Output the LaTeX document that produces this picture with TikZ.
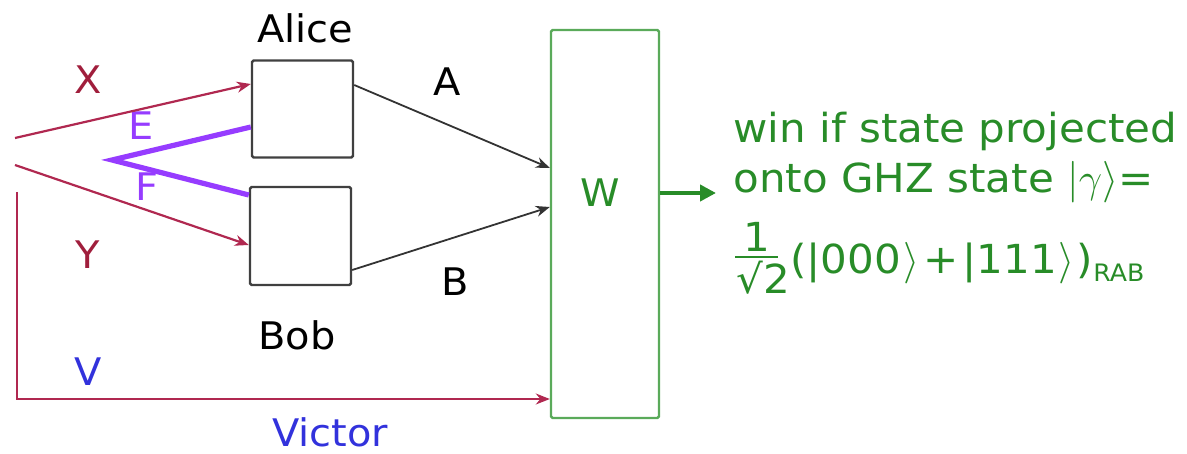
\documentclass[tikz,border=0pt]{standalone}
\usepackage{fontspec}
\setmainfont[FakeStretch=1.05]{DejaVu Sans}
\usetikzlibrary{arrows.meta}
\definecolor{cred}{RGB}{176,40,80}
\definecolor{lred}{RGB}{160,30,60}
\definecolor{cpur}{RGB}{150,60,255}
\definecolor{cblue}{RGB}{50,50,220}
\definecolor{cgreen}{RGB}{40,140,40}
\definecolor{bgreen}{RGB}{90,170,90}
\tikzset{
  box/.style={draw=black!75, line width=1.2pt, rounded corners=0.8pt, inner sep=0pt},
  lbl/.style={font=\fontsize{19}{22}\selectfont, inner sep=0pt},
  redln/.style={draw=cred, line width=1.1pt, -{Stealth[length=7pt,width=5.5pt]}},
  blkln/.style={draw=black!80, line width=0.9pt, -{Stealth[length=7pt,width=5.5pt]}},
  gtext/.style={font=\fontsize{20}{24}\selectfont, text=cgreen, inner sep=0pt, anchor=base west}
}
\begin{document}
\begin{tikzpicture}[x=0.5pt,y=-0.5pt]
\useasboundingbox (0,0) rectangle (1187,454);
% boxes
\node[box, minimum width=50.5pt, minimum height=48.5pt] (alice) at (302.5,109) {};
\node[box, minimum width=50.5pt, minimum height=49pt] (bob) at (300.5,236) {};
\node[box, draw=bgreen, minimum width=54pt, minimum height=194pt] (W) at (605,224) {};
\node[lbl, text=cgreen] (wl) at (600,193) {W};
% labels
\node[lbl] (alicel) at (305,28) {Alice};
\node[lbl] (bobl) at (297,335) {Bob};
\node[lbl, text=lred] (xl) at (88,80) {X};
\node[lbl, text=lred] (yl) at (88,255) {Y};
\node[lbl, text=cblue] (vl) at (88,372) {V};
\node[lbl, text=cblue] (victor) at (330,432) {Victor};
\node[lbl, text=cpur] (el) at (141,126) {E};
\node[lbl, text=cpur] (fl) at (147,187) {F};
\node[lbl] (al) at (447,82) {A};
\node[lbl] (bl) at (455,282) {B};
% coordinates
\coordinate (xs) at (15,138);
\coordinate (ys) at (15,165);
\coordinate (ef) at (112,160);
\coordinate (vs) at (17,192);
\coordinate (go) at (716,193);
% connectors
\draw[redln] (xs) -- ([yshift=12.5pt]alice.west);
\draw[redln] (ys) -- ([yshift=-4.5pt]bob.west);
\draw[cpur, line width=2.6pt, line join=miter] ([yshift=-9pt]alice.west) -- (ef) -- ([yshift=20.5pt]bob.west);
\draw[blkln] ([yshift=12pt]alice.east) -- ([yshift=28pt]W.west);
\draw[blkln] ([yshift=-17pt]bob.east) -- ([yshift=8.5pt]W.west);
\draw[redln] (vs) |- ([yshift=-87.5pt]W.west);
\draw[draw=cgreen, line width=2.2pt, -{Triangle[length=8pt,width=8pt]}] ([yshift=15.5pt]W.east) -- (go);
% green text
\node[gtext] (t1) at (733,143) {win if state projected};
\node[gtext] (t2) at (733,193) {onto GHZ state $|\gamma\rangle$=};
\node[gtext, anchor=base] (num) at (757,251) {1};
\node[gtext] (den) at (736,293) {√2};
\coordinate (bl1) at (735,257);
\coordinate (bl2) at (778,257);
\draw[cgreen, line width=1.1pt] (bl1) -- (bl2);
\node[gtext] (t3) at (790,273) {(|000\kern1pt$\rangle$\kern2pt+\kern2pt|111\kern1pt$\rangle$\kern1pt)\raisebox{-4pt}{\fontsize{12}{14}\selectfont RAB}};
\end{tikzpicture}
\end{document}
